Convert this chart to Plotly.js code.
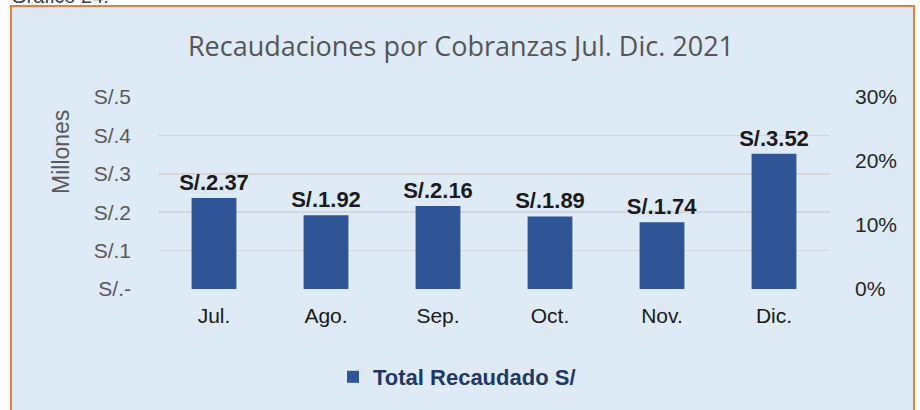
<!DOCTYPE html>
<html>
<head>
<meta charset="utf-8">
<script src="https://cdn.plot.ly/plotly-3.0.1.min.js"></script>
<style>
html,body{margin:0;padding:0;background:#ffffff;}
#chart{width:920px;height:410px;}
</style>
</head>
<body>
<div id="chart"></div>
<script>
// ---- data ----
const categories = ["Jul.", "Ago.", "Sep.", "Oct.", "Nov.", "Dic."];
const recaudadoMillones = [2.37, 1.92, 2.16, 1.89, 1.74, 3.52];
const leftTickVals = [0, 1, 2, 3, 4, 5];
const leftTickText = ["S/.-", "S/.1", "S/.2", "S/.3", "S/.4", "S/.5"];
const rightTickVals = [0, 0.1, 0.2, 0.3];
const seriesName = "Total Recaudado S/";
const chartTitle = "Recaudaciones por Cobranzas Jul. Dic. 2021";
const captionText = "Gráfico 24.";
const yTitle = "Millones";

// ---- layout constants ----
const L = 158, R = 90, T = 97, B = 121, W = 920, H = 410;
const pw = W - L - R, ph = H - T - B;
const px = x => (x - L) / pw;
const py = y => (H - B - y) / ph;

const trace = {
  type: "bar",
  x: categories,
  y: recaudadoMillones,
  name: seriesName,
  marker: {color: "#2f5597", line: {width: 0}},
  width: 0.4,
  text: recaudadoMillones.map(v => "S/." + v.toFixed(2)),
  textposition: "outside",
  constraintext: "none",
  textfont: {family: "Liberation Sans, Arial, sans-serif", size: 22, color: "#1a1a1a", weight: "bold"},
  cliponaxis: false,
  hoverinfo: "x+y"
};

// empty companion series so that the secondary (percent) axis is drawn
const pctAxisTrace = {
  type: "scatter", mode: "markers",
  x: [], y: [],
  yaxis: "y2", showlegend: false, hoverinfo: "skip"
};

const layout = {
  width: W, height: H,
  margin: {l: L, r: R, t: T, b: B, pad: 0},
  paper_bgcolor: "#ffffff",
  plot_bgcolor: "rgba(0,0,0,0)",
  title: {
    text: chartTitle,
    font: {family: "Open Sans, Noto Sans, sans-serif", size: 27, color: "#555555"},
    xref: "container", x: 461 / W, xanchor: "center",
    yref: "container", y: 1 - 47 / H, yanchor: "middle"
  },
  xaxis: {
    type: "category",
    showgrid: false, zeroline: false, showline: false, ticks: "",
    tickfont: {family: "Liberation Sans, Arial, sans-serif", size: 21, color: "#1a1a1a"},
    ticklabelstandoff: 12
  },
  yaxis: {
    range: [0, 5],
    tickvals: leftTickVals, ticktext: leftTickText,
    showgrid: true, gridcolor: "#d3d6da", gridwidth: 1.5,
    zeroline: false, showline: false, ticks: "",
    tickfont: {family: "Liberation Sans, Arial, sans-serif", size: 21, color: "#595959"},
    ticklabelstandoff: 26
  },
  yaxis2: {
    overlaying: "y", side: "right",
    range: [0, 0.3], autorange: false,
    tickvals: rightTickVals, tickformat: ".0%",
    showgrid: false, zeroline: false, showline: false, ticks: "",
    tickfont: {family: "Liberation Sans, Arial, sans-serif", size: 21, color: "#262626"},
    ticklabelstandoff: 24
  },
  bargap: 0.6,
  showlegend: true,
  legend: {
    orientation: "h",
    x: px(457), xanchor: "center",
    y: py(377), yanchor: "middle",
    bgcolor: "rgba(0,0,0,0)",
    font: {family: "Liberation Sans, Arial, sans-serif", size: 22, color: "#1f3864", weight: "bold"}
  },
  shapes: [{
    type: "rect", layer: "below",
    xref: "paper", yref: "paper",
    x0: px(11), x1: px(914), y0: py(430), y1: py(6),
    fillcolor: "#deeaf6",
    line: {color: "#ed7d31", width: 2}
  }],
  annotations: [
    {
      text: yTitle, textangle: -90, showarrow: false,
      xref: "paper", yref: "paper", x: px(61), y: py(152),
      xanchor: "center", yanchor: "middle",
      font: {family: "Liberation Sans, Arial, sans-serif", size: 23, color: "#595959"}
    },
    {
      text: captionText, showarrow: false,
      xref: "paper", yref: "paper", x: px(9), y: py(9),
      xanchor: "left", yanchor: "bottom",
      font: {family: "Liberation Sans, Arial, sans-serif", size: 20, color: "#404040"}
    }
  ]
};

Plotly.newPlot("chart", [trace, pctAxisTrace], layout, {displayModeBar: false, staticPlot: true});
</script>
</body>
</html>
